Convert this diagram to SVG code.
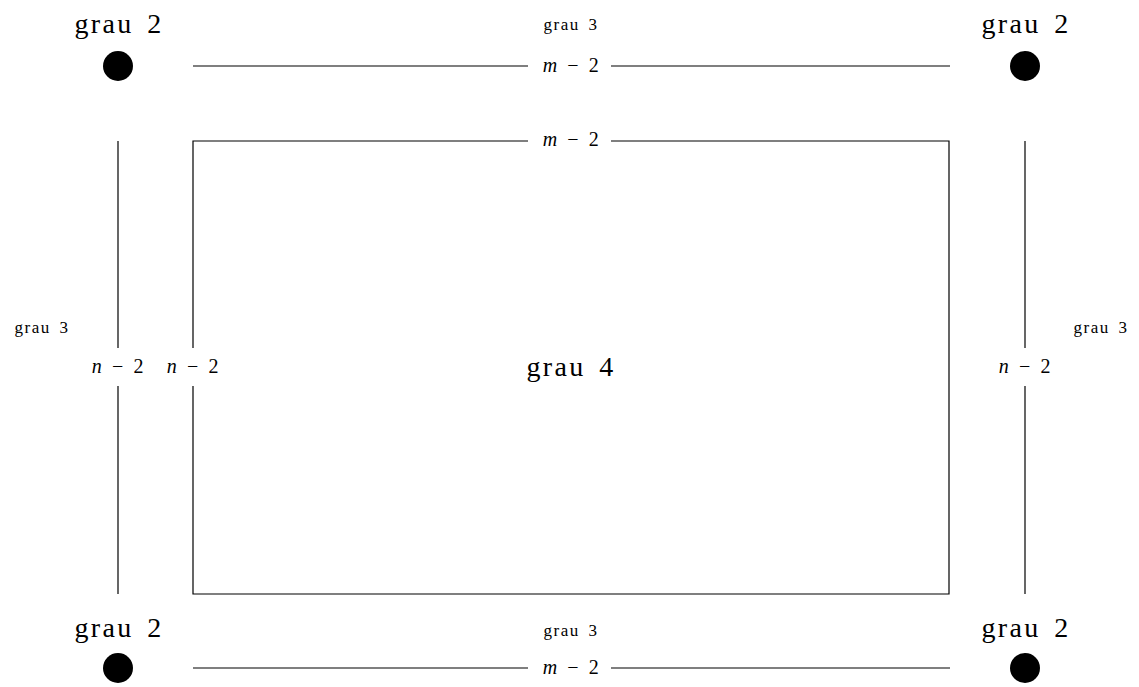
<svg xmlns="http://www.w3.org/2000/svg" width="1139" height="687" viewBox="0 0 1139 687">
<style>
text{font-family:"Liberation Serif","DejaVu Serif",serif;fill:#000;text-anchor:middle}
.big{font-size:28px;letter-spacing:2.4px;word-spacing:4px}
.small{font-size:17px;letter-spacing:1.5px;word-spacing:3px}
.lbl{font-size:20px;letter-spacing:0.6px;word-spacing:4px}
.it{font-style:italic}
line{stroke:#000;stroke-width:1.2;fill:none}
circle{fill:#000}
</style>
<rect width="1139" height="687" fill="#fff"/>
<g id="connectors">
<line x1="193" y1="66" x2="528" y2="66"/><line x1="611" y1="66" x2="950" y2="66"/>
<line x1="193" y1="668" x2="528" y2="668"/><line x1="611" y1="668" x2="950" y2="668"/>
<line x1="118" y1="141" x2="118" y2="348"/><line x1="118" y1="386" x2="118" y2="594"/>
<line x1="1025" y1="141" x2="1025" y2="348"/><line x1="1025" y1="386" x2="1025" y2="594"/>
</g>
<g id="corner-tl"><text class="big" x="119" y="33">grau 2</text><circle cx="118" cy="66" r="15"/></g>
<g id="corner-tr"><text class="big" x="1026" y="33">grau 2</text><circle cx="1025" cy="66" r="15"/></g>
<g id="corner-bl"><text class="big" x="119" y="637">grau 2</text><circle cx="118" cy="668" r="15"/></g>
<g id="corner-br"><text class="big" x="1026" y="637">grau 2</text><circle cx="1025" cy="668" r="15"/></g>
<g id="edge-top"><text class="small" x="571" y="30">grau 3</text><text class="lbl" x="571" y="72"><tspan class="it">m</tspan> − 2</text></g>
<g id="edge-bottom"><text class="small" x="571" y="636">grau 3</text><text class="lbl" x="571" y="674"><tspan class="it">m</tspan> − 2</text></g>
<g id="edge-left"><text class="small" x="42" y="333">grau 3</text><text class="lbl" x="118" y="373"><tspan class="it">n</tspan> − 2</text></g>
<g id="edge-right"><text class="small" x="1101" y="333">grau 3</text><text class="lbl" x="1025" y="373"><tspan class="it">n</tspan> − 2</text></g>
<g id="interior">
<path d="M528 141 H193 V348 M193 386 V594 H949 V141 H611" fill="none" stroke="#000" stroke-width="1.2"/>
<text class="lbl" x="571" y="146"><tspan class="it">m</tspan> − 2</text>
<text class="lbl" x="193" y="373"><tspan class="it">n</tspan> − 2</text>
<text class="big" x="571" y="376">grau 4</text>
</g>
</svg>
